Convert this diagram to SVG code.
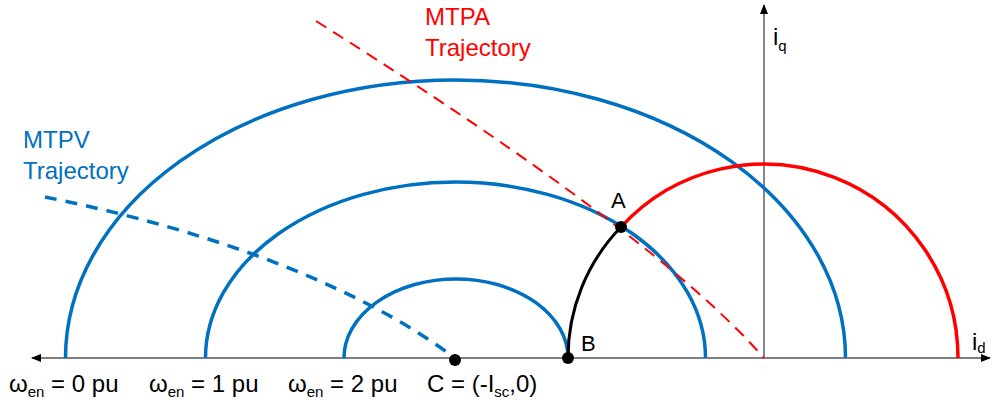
<svg xmlns="http://www.w3.org/2000/svg" width="997" height="408" viewBox="0 0 997 408">
<style>
text{font-family:"Liberation Sans",Arial,sans-serif;font-size:24px;fill:#000}
.red{fill:#FF0000}
.blue{fill:#0070C0}
.big{font-size:24px}
.sub{font-size:15px}
.pt{font-size:22px}
.ell{fill:none;stroke:#0070C0;stroke-width:3.5}
.axis{stroke:#555;stroke-width:1.4;fill:none}
</style>
<defs>
<marker id="ah" viewBox="0 0 10 10" refX="9" refY="5" markerWidth="10" markerHeight="10" markerUnits="userSpaceOnUse" orient="auto-start-reverse">
<path d="M0 1 L10 5 L0 9 Z" fill="#000"/>
</marker>
</defs>
<g id="axes">
<line class="axis" x1="32" y1="358" x2="990" y2="358" marker-start="url(#ah)" marker-end="url(#ah)"/>
<line class="axis" x1="764" y1="358" x2="764" y2="5" marker-end="url(#ah)"/>
</g>
<g id="voltage-limits">
<path id="ellipse-0pu" class="ell" d="M65.5 358 A390 278 0 0 1 845.5 358"/>
<path id="ellipse-1pu" class="ell" d="M205.5 358 A250 176 0 0 1 705.5 358"/>
<path id="ellipse-2pu" class="ell" d="M344 358 A112 79 0 0 1 568 358"/>
</g>
<g id="connectors">
<path id="mtpv" d="M45 197 C150 218 330 265 455 358" fill="none" stroke="#0070C0" stroke-width="3.5" stroke-dasharray="12 9"/>
<path id="bA" d="M568 358 A188 188 0 0 1 621 227" fill="none" stroke="#000" stroke-width="3"/>
<path id="current-limit" d="M621 227 A194 194 0 0 1 958 358" fill="none" stroke="#FF0000" stroke-width="3.5"/>
<path id="mtpa" d="M316 21 Q657.5 235.8 764 358" fill="none" stroke="#FF0000" stroke-width="2" stroke-dasharray="12 8"/>
</g>
<g id="node-A"><circle cx="621" cy="227" r="6" fill="#000"/><text class="pt" x="611" y="208">A</text></g>
<g id="node-B"><circle cx="568" cy="358" r="6" fill="#000"/><text class="pt" x="581" y="351">B</text></g>
<g id="node-C"><circle cx="455" cy="360" r="6" fill="#000"/></g>
<g id="labels">
<text class="red big" x="425" y="25">MTPA</text>
<text class="red big" x="425" y="56">Trajectory</text>
<text class="blue big" x="23" y="148">MTPV</text>
<text class="blue big" x="23" y="179">Trajectory</text>
<text class="big" x="773" y="45">i<tspan class="sub" dy="6">q</tspan></text>
<text class="big" x="972" y="350">i<tspan class="sub" dy="3">d</tspan></text>
<text x="9" y="392">ω<tspan class="sub" dy="5">en</tspan><tspan dy="-5"> = 0 pu</tspan></text>
<text x="149" y="392">ω<tspan class="sub" dy="5">en</tspan><tspan dy="-5"> = 1 pu</tspan></text>
<text x="288" y="392">ω<tspan class="sub" dy="5">en</tspan><tspan dy="-5"> = 2 pu</tspan></text>
<text x="427" y="392">C = (-I<tspan class="sub" dy="5">sc</tspan><tspan dy="-5">,0)</tspan></text>
</g>
</svg>
